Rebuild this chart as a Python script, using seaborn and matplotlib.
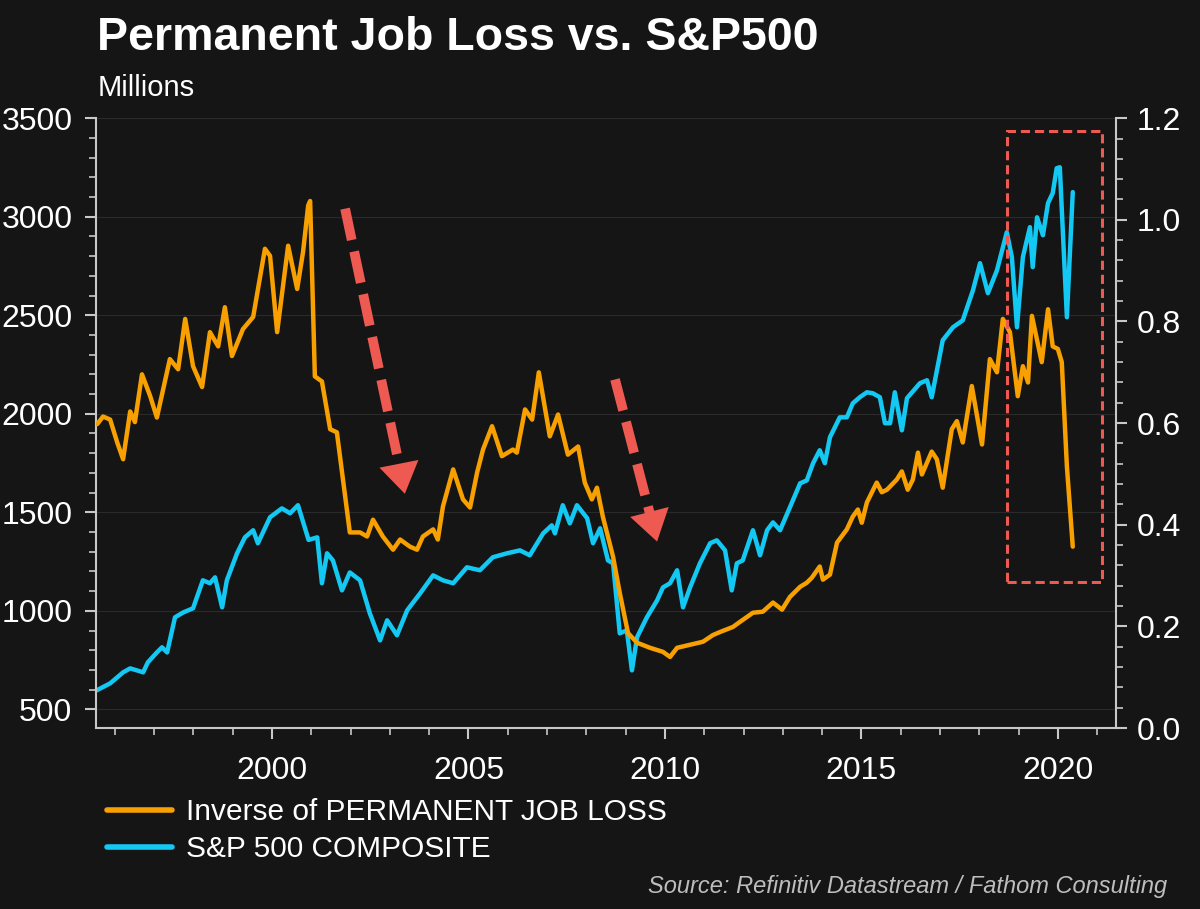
import matplotlib
matplotlib.use("Agg")
import matplotlib.pyplot as plt
from matplotlib.lines import Line2D
from matplotlib.patches import Rectangle
from matplotlib.ticker import MultipleLocator, FormatStrFormatter
import seaborn as sns

# S&P 500 composite (left axis)
sp_years = [1995.54, 1995.88, 1996.21, 1996.39, 1996.56, 1996.72, 1996.84, 1997.07, 1997.20, 1997.33,
            1997.53, 1997.74, 1997.99, 1998.24, 1998.42, 1998.55, 1998.73, 1998.85, 1999.11, 1999.31,
            1999.52, 1999.64, 1999.95, 2000.25, 2000.46, 2000.66, 2000.93, 2001.15, 2001.27, 2001.40,
            2001.55, 2001.78, 2001.98, 2002.24, 2002.49, 2002.75, 2002.93, 2003.18, 2003.44, 2003.77,
            2004.10, 2004.35, 2004.61, 2004.96, 2005.29, 2005.62, 2005.98, 2006.31, 2006.56, 2006.90,
            2007.12, 2007.20, 2007.40, 2007.58, 2007.76, 2008.02, 2008.17, 2008.35, 2008.55, 2008.68,
            2008.85, 2009.03, 2009.16, 2009.29, 2009.54, 2009.80, 2009.95, 2010.13, 2010.31, 2010.46,
            2010.64, 2010.89, 2011.15, 2011.32, 2011.53, 2011.70, 2011.83, 2011.98, 2012.24, 2012.42,
            2012.60, 2012.75, 2012.93, 2013.18, 2013.44, 2013.61, 2013.77, 2013.94, 2014.07, 2014.20,
            2014.45, 2014.63, 2014.78, 2014.96, 2015.14, 2015.29, 2015.47, 2015.60, 2015.73, 2015.85,
            2016.03, 2016.16, 2016.49, 2016.67, 2016.79, 2017.07, 2017.33, 2017.58, 2017.84, 2018.02,
            2018.22, 2018.45, 2018.70, 2018.83, 2018.96, 2019.11, 2019.29, 2019.36, 2019.47, 2019.62,
            2019.75, 2019.87, 2019.97, 2020.05, 2020.23, 2020.38]
sp_values = [597, 632, 688, 708, 698, 688, 739, 789, 815, 789,
             967, 992, 1013, 1155, 1140, 1170, 1018, 1155, 1292, 1373,
             1409, 1343, 1475, 1520, 1495, 1536, 1360, 1373, 1140, 1292,
             1256, 1104, 1195, 1155, 987, 850, 952, 876, 1003, 1089,
             1180, 1155, 1140, 1221, 1206, 1272, 1292, 1307, 1282, 1393,
             1434, 1393, 1536, 1444, 1536, 1470, 1343, 1419, 1256, 1241,
             886, 901, 698, 866, 967, 1053, 1119, 1140, 1206, 1018,
             1119, 1241, 1343, 1358, 1307, 1104, 1241, 1256, 1409, 1282,
             1409, 1449, 1409, 1525, 1647, 1662, 1749, 1815, 1749, 1881,
             1982, 1982, 2053, 2084, 2109, 2104, 2084, 1952, 1952, 2109,
             1916, 2079, 2155, 2170, 2084, 2373, 2439, 2474, 2627, 2764,
             2612, 2728, 2921, 2795, 2439, 2795, 2947, 2744, 2997, 2906,
             3069, 3120, 3246, 3251, 2490, 3125]

# Inverse of permanent job loss, millions (right axis)
job_years = [1995.55, 1995.70, 1995.88, 1996.06, 1996.21, 1996.39, 1996.51, 1996.69, 1996.90, 1997.07,
             1997.40, 1997.61, 1997.79, 1997.99, 1998.22, 1998.42, 1998.63, 1998.80, 1998.98, 1999.26,
             1999.52, 1999.82, 1999.95, 2000.13, 2000.41, 2000.64, 2000.79, 2000.92, 2000.97, 2001.09,
             2001.27, 2001.48, 2001.65, 2001.98, 2002.24, 2002.42, 2002.57, 2002.82, 2003.08, 2003.26,
             2003.51, 2003.69, 2003.84, 2004.10, 2004.22, 2004.35, 2004.61, 2004.86, 2005.04, 2005.22,
             2005.37, 2005.60, 2005.85, 2006.13, 2006.23, 2006.44, 2006.62, 2006.79, 2007.07, 2007.28,
             2007.53, 2007.79, 2007.96, 2008.14, 2008.27, 2008.42, 2008.68, 2008.85, 2009.06, 2009.29,
             2009.62, 2009.95, 2010.13, 2010.31, 2010.64, 2010.97, 2011.22, 2011.40, 2011.73, 2011.91,
             2012.24, 2012.49, 2012.75, 2012.98, 2013.18, 2013.44, 2013.61, 2013.74, 2013.94, 2014.02,
             2014.20, 2014.38, 2014.63, 2014.78, 2014.91, 2015.01, 2015.14, 2015.39, 2015.52, 2015.65,
             2015.90, 2016.03, 2016.18, 2016.31, 2016.44, 2016.54, 2016.79, 2016.92, 2017.07, 2017.30,
             2017.43, 2017.58, 2017.81, 2018.07, 2018.27, 2018.45, 2018.60, 2018.78, 2018.98, 2019.11,
             2019.24, 2019.34, 2019.59, 2019.75, 2019.87, 2020.00, 2020.10, 2020.23, 2020.38]
job_values = [0.598, 0.613, 0.607, 0.562, 0.529, 0.623, 0.602, 0.696, 0.653, 0.611,
              0.726, 0.706, 0.805, 0.712, 0.671, 0.779, 0.751, 0.828, 0.732, 0.785,
              0.809, 0.943, 0.929, 0.779, 0.949, 0.864, 0.937, 1.028, 1.037, 0.692,
              0.682, 0.588, 0.582, 0.385, 0.385, 0.377, 0.410, 0.377, 0.351, 0.371,
              0.357, 0.351, 0.377, 0.391, 0.371, 0.436, 0.509, 0.450, 0.434, 0.503,
              0.548, 0.594, 0.535, 0.548, 0.542, 0.627, 0.607, 0.700, 0.574, 0.617,
              0.538, 0.554, 0.483, 0.450, 0.473, 0.416, 0.337, 0.266, 0.187, 0.168,
              0.158, 0.150, 0.140, 0.158, 0.164, 0.170, 0.183, 0.189, 0.199, 0.209,
              0.227, 0.229, 0.247, 0.233, 0.258, 0.278, 0.286, 0.296, 0.318, 0.292,
              0.302, 0.365, 0.391, 0.416, 0.430, 0.404, 0.444, 0.483, 0.464, 0.469,
              0.489, 0.505, 0.469, 0.489, 0.542, 0.499, 0.544, 0.529, 0.473, 0.588,
              0.604, 0.562, 0.673, 0.558, 0.726, 0.700, 0.805, 0.779, 0.653, 0.712,
              0.680, 0.811, 0.720, 0.824, 0.751, 0.746, 0.720, 0.515, 0.357]

labels = ["Inverse of PERMANENT JOB LOSS", "S&P 500 COMPOSITE"]

BG = "#151515"
ORANGE = "#F7A000"
CYAN = "#14C8F4"
RED = "#EE5A52"
SPINE = "#C8C8C8"

sns.set_theme(style="dark", rc={"axes.facecolor": BG, "figure.facecolor": BG})
plt.rcParams["font.family"] = ["Liberation Sans", "DejaVu Sans"]

fig = plt.figure(figsize=(12, 9.09), dpi=100, facecolor=BG)
ax = fig.add_axes([0.08, 0.199, 0.85, 0.671])
ax2 = ax.twinx()

sns.lineplot(x=sp_years, y=sp_values, ax=ax, color=CYAN, lw=3.2)
sns.lineplot(x=job_years, y=job_values, ax=ax2, color=ORANGE, lw=3.2)

ax.set_xlim(1995.52, 2021.48)
ax.set_ylim(405, 3500)
ax2.set_ylim(0, 1.2)
ax.set_xlabel("")
ax.set_ylabel("")
ax2.set_ylabel("")

ax.xaxis.set_major_locator(MultipleLocator(5))
ax.xaxis.set_minor_locator(MultipleLocator(1))
ax.xaxis.set_major_formatter(FormatStrFormatter("%d"))
ax.yaxis.set_major_locator(MultipleLocator(500))
ax.yaxis.set_minor_locator(MultipleLocator(100))
ax.yaxis.set_major_formatter(FormatStrFormatter("%d"))
ax2.yaxis.set_major_locator(MultipleLocator(0.2))
ax2.yaxis.set_minor_locator(MultipleLocator(0.04))
ax2.yaxis.set_major_formatter(FormatStrFormatter("%.1f"))

ax.grid(False)
ax2.grid(False)
ax.yaxis.grid(True, which="major", color="#2A2A2A", lw=0.8)

for a in (ax, ax2):
    a.tick_params(which="major", direction="out", length=8, width=1.5, color=SPINE,
                  labelcolor="white", labelsize=23)
    a.tick_params(which="minor", direction="out", length=5, width=1.2, color=SPINE)
    a.spines["top"].set_visible(False)
ax.tick_params(axis="y", which="both", left=True, pad=9)
ax.tick_params(axis="x", which="both", bottom=True)
ax.tick_params(axis="x", pad=12)
ax2.tick_params(axis="y", which="both", right=True, pad=7)
ax.spines["right"].set_visible(False)
ax2.spines["left"].set_visible(False)
ax2.spines["bottom"].set_visible(False)
for s in ("left", "bottom"):
    ax.spines[s].set_color(SPINE)
    ax.spines[s].set_linewidth(1.5)
ax2.spines["right"].set_color(SPINE)
ax2.spines["right"].set_linewidth(1.5)

# highlight box around 2019-2020
ax2.add_patch(Rectangle((2018.70, 0.288), 2.42, 0.886, fill=False, edgecolor=RED,
                        lw=2.2, ls=(0, (3, 1.6)), zorder=6))

# dashed arrows
arrows = [((2001.86, 1.022), (2003.23, 0.520), (2003.38, 0.461)),
          ((2008.73, 0.686), (2009.61, 0.424), (2009.80, 0.367))]
for start, pre, tip in arrows:
    ax2.plot([start[0], pre[0]], [start[1], pre[1]], color=RED, lw=7,
             dashes=(3.3, 1.2), dash_capstyle="butt", zorder=6)
    ax2.annotate("", xy=tip, xytext=pre,
                 arrowprops=dict(arrowstyle="-|>,head_length=1.0,head_width=0.65",
                                 color=RED, lw=0, mutation_scale=22,
                                 shrinkA=0, shrinkB=0), zorder=6)

fig.text(0.081, 0.945, "Permanent Job Loss vs. S&P500", color="white",
         fontsize=33.5, fontweight="bold", va="baseline", ha="left")
fig.text(0.081, 0.894, "Millions", color="white", fontsize=21, va="baseline", ha="left")

handles = [Line2D([], [], color=ORANGE, lw=4), Line2D([], [], color=CYAN, lw=4)]
fig.legend(handles, labels, loc="upper left", bbox_to_anchor=(0.089, 0.122),
           frameon=False, fontsize=21.5, labelcolor="white", handlelength=2.2,
           handletextpad=0.45, labelspacing=0.3, borderpad=0, borderaxespad=0)

fig.text(0.54, 0.018, "Source: Refinitiv Datastream / Fathom Consulting", color="#BDBDBD",
         fontsize=17, fontstyle="italic", va="baseline", ha="left")

fig.savefig("out.png", dpi=100, facecolor=BG)
